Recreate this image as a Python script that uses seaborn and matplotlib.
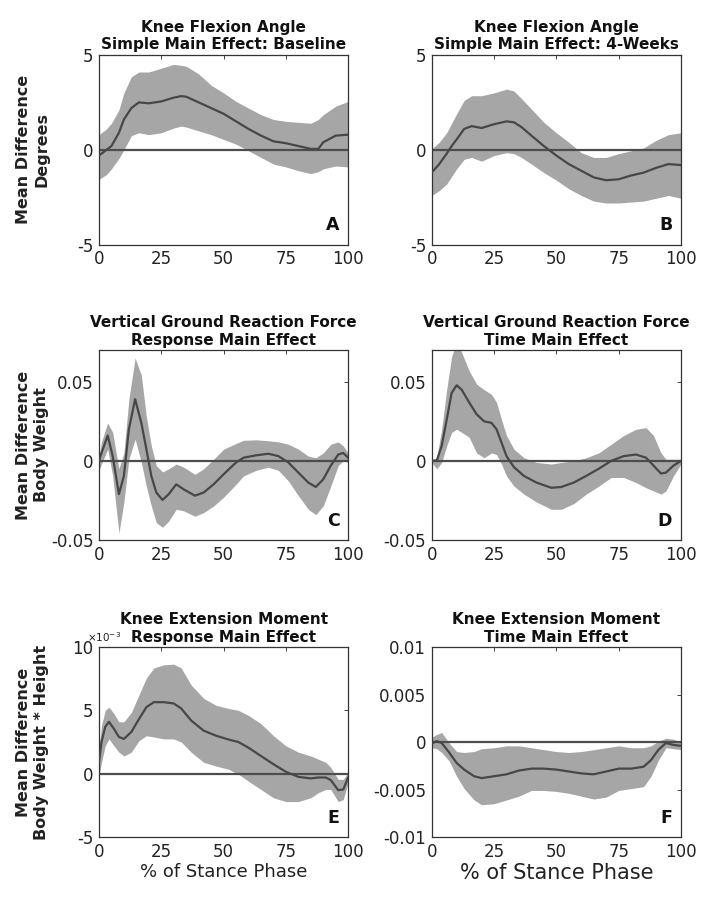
import numpy as np
import pandas as pd
import matplotlib
matplotlib.use("Agg")
import matplotlib.pyplot as plt
import seaborn as sns

# =============================
# DATA
# =============================
# A - knee flexion angle, baseline
a_x = [0, 3, 5, 8, 10, 13, 16, 20, 25, 30, 33, 35, 40, 45, 50, 55, 60, 65, 70, 75, 80, 85, 88, 90, 95, 100]
a_mean = [-0.3, 0.0, 0.2, 0.9, 1.6, 2.2, 2.5, 2.45, 2.55, 2.75, 2.83, 2.8, 2.5, 2.2, 1.9, 1.5, 1.1, 0.75, 0.45, 0.35, 0.2, 0.05, 0.05, 0.4, 0.75, 0.8]
a_up = [0.8, 1.1, 1.4, 2.1, 3.0, 3.85, 4.1, 4.1, 4.3, 4.5, 4.45, 4.4, 4.0, 3.4, 3.0, 2.55, 2.2, 1.85, 1.6, 1.5, 1.45, 1.4, 1.6, 1.85, 2.3, 2.55]
a_lo = [-1.55, -1.3, -1.0, -0.45, 0.0, 0.75, 0.9, 0.8, 0.9, 1.15, 1.25, 1.2, 1.0, 0.8, 0.55, 0.3, -0.05, -0.4, -0.75, -0.9, -1.1, -1.25, -1.15, -1.0, -0.85, -0.9]

# B - knee flexion angle, 4 weeks
b_x = [0, 3, 6, 8, 10, 13, 16, 20, 25, 30, 33, 36, 40, 45, 50, 55, 60, 65, 70, 75, 80, 85, 90, 95, 100]
b_mean = [-1.2, -0.75, -0.2, 0.2, 0.55, 1.1, 1.25, 1.15, 1.35, 1.5, 1.45, 1.2, 0.75, 0.2, -0.3, -0.75, -1.1, -1.45, -1.6, -1.55, -1.35, -1.2, -0.95, -0.75, -0.8]
b_up = [0.05, 0.4, 0.9, 1.4, 1.9, 2.6, 2.85, 2.85, 3.0, 3.2, 3.1, 2.7, 2.15, 1.45, 0.9, 0.4, -0.15, -0.4, -0.4, -0.2, -0.05, 0.1, 0.5, 0.8, 0.9]
b_lo = [-2.4, -2.15, -1.8, -1.4, -1.0, -0.5, -0.4, -0.6, -0.3, -0.15, -0.2, -0.4, -0.75, -1.2, -1.6, -2.05, -2.4, -2.7, -2.8, -2.8, -2.75, -2.7, -2.55, -2.4, -2.55]

# C - vertical GRF, response main effect
c_x = [0, 1, 3.5, 5.5, 8, 10, 12, 14.5, 17, 19, 21, 23, 25.5, 28, 31, 34, 38.5, 42, 46, 50, 55, 58, 63, 68, 72, 76, 80, 84, 87, 90, 93, 96, 98, 100]
c_mean = [0.0, 0.005, 0.016, 0.003, -0.021, -0.0095, 0.02, 0.039, 0.024, 0.0075, -0.0095, -0.02, -0.0247, -0.021, -0.0148, -0.018, -0.022, -0.02, -0.0148, -0.0085, -0.001, 0.002, 0.0035, 0.0045, 0.003, -0.001, -0.0074, -0.0137, -0.0165, -0.0116, -0.003, 0.004, 0.005, 0.002]
c_up = [0.002, 0.012, 0.024, 0.018, -0.005, 0.005, 0.039, 0.065, 0.054, 0.028, 0.0095, -0.003, -0.007, -0.005, -0.002, -0.004, -0.0085, -0.005, 0.001, 0.0074, 0.011, 0.013, 0.0133, 0.0127, 0.012, 0.0105, 0.0074, 0.003, 0.002, 0.005, 0.0105, 0.012, 0.0095, 0.005]
c_lo = [-0.006, -0.002, 0.0074, -0.0095, -0.0455, -0.026, 0.001, 0.0137, -0.001, -0.016, -0.0285, -0.039, -0.042, -0.038, -0.0306, -0.0316, -0.035, -0.0327, -0.0285, -0.023, -0.0148, -0.0095, -0.006, -0.004, -0.006, -0.0127, -0.022, -0.0306, -0.034, -0.0285, -0.016, -0.003, 0.0, -0.001]

# D - vertical GRF, time main effect
d_x = [0, 2, 4, 6, 8, 10, 12, 15, 18, 21, 24, 26, 28, 30, 33, 37, 42, 48, 52, 57, 62, 67, 72, 77, 82, 86, 89, 92, 94, 97, 100]
d_mean = [0.0, 0.0, 0.0095, 0.026, 0.043, 0.0478, 0.045, 0.037, 0.0295, 0.025, 0.024, 0.02, 0.0116, 0.003, -0.004, -0.0095, -0.0137, -0.017, -0.0165, -0.0137, -0.0095, -0.005, 0.0, 0.003, 0.004, 0.002, -0.003, -0.008, -0.0074, -0.003, 0.0]
d_up = [0.001, 0.002, 0.02, 0.045, 0.066, 0.075, 0.0686, 0.057, 0.0485, 0.045, 0.042, 0.037, 0.026, 0.016, 0.0074, 0.002, -0.001, -0.002, -0.001, 0.0, 0.002, 0.005, 0.0105, 0.016, 0.02, 0.021, 0.016, 0.005, 0.001, 0.001, 0.001]
d_lo = [-0.001, -0.005, -0.001, 0.0095, 0.018, 0.02, 0.018, 0.015, 0.005, 0.002, 0.005, 0.004, -0.002, -0.0095, -0.016, -0.021, -0.026, -0.0306, -0.0306, -0.027, -0.021, -0.016, -0.0105, -0.0105, -0.0137, -0.017, -0.019, -0.021, -0.019, -0.0095, -0.002]

# E - knee extension moment, response main effect (x 10^-3)
e_x = [0, 1, 2.5, 4, 6, 8, 10, 13, 16, 19, 22, 26, 30, 33, 37, 42, 47, 52, 56, 60, 65, 70, 75, 80, 85, 88, 91, 93, 96, 98, 100]
e_mean = [0.9, 2.5, 3.7, 4.1, 3.55, 2.9, 2.75, 3.3, 4.3, 5.25, 5.65, 5.65, 5.55, 5.15, 4.2, 3.4, 3.0, 2.7, 2.5, 2.05, 1.4, 0.75, 0.15, -0.25, -0.37, -0.3, -0.3, -0.5, -1.3, -1.25, -0.3]
e_up = [1.95, 3.8, 5.0, 5.25, 4.75, 4.1, 4.1, 4.85, 6.2, 7.55, 8.35, 8.6, 8.65, 8.35, 7.0, 5.95, 5.4, 5.15, 5.0, 4.6, 3.95, 3.0, 2.2, 1.7, 1.4, 1.15, 0.9, 0.5, -0.45, -0.45, 0.1]
e_lo = [-0.2, 0.9, 2.2, 2.75, 2.2, 1.7, 1.4, 1.7, 2.6, 3.0, 2.9, 2.75, 2.75, 2.5, 1.7, 0.9, 0.6, 0.35, -0.05, -0.6, -1.25, -1.9, -2.2, -2.2, -1.9, -1.5, -1.25, -1.25, -2.2, -2.05, -0.7]

# F - knee extension moment, time main effect
f_x = [0, 2, 4, 7, 10, 13, 17, 20, 25, 30, 35, 40, 45, 50, 55, 60, 65, 70, 75, 80, 85, 88, 91, 94, 97, 100]
f_mean = [-0.00015, 0.0001, -0.0001, -0.0011, -0.0022, -0.0029, -0.0036, -0.0038, -0.0036, -0.0034, -0.003, -0.0028, -0.0028, -0.0029, -0.0031, -0.0033, -0.0034, -0.0031, -0.0028, -0.0028, -0.0026, -0.0019, -0.0008, -0.0001, -0.0003, -0.0004]
f_up = [0.0005, 0.0008, 0.001, -0.0001, -0.001, -0.0011, -0.001, -0.0007, -0.0006, -0.0004, -0.0004, -0.0006, -0.0008, -0.001, -0.0011, -0.001, -0.0008, -0.0006, -0.0004, -0.0006, -0.0006, -0.0004, 0.0001, 0.0004, 0.0003, 0.0]
f_lo = [-0.0006, -0.0007, -0.0011, -0.002, -0.0036, -0.0049, -0.0061, -0.0066, -0.0065, -0.0061, -0.0057, -0.0051, -0.0051, -0.0052, -0.0054, -0.0057, -0.006, -0.0058, -0.0051, -0.0049, -0.0047, -0.0036, -0.0019, -0.0006, -0.0007, -0.0008]

# axis setup per panel
x_ticks = [0, 25, 50, 75, 100]
ab_yticks = [-5, 0, 5]
ab_ylabels = ["-5", "0", "5"]
cd_yticks = [-0.05, 0, 0.05]
cd_ylabels = ["-0.05", "0", "0.05"]
e_yticks = [-5, 0, 5, 10]
e_ylabels = ["-5", "0", "5", "10"]
f_yticks = [-0.01, -0.005, 0, 0.005, 0.01]
f_ylabels = ["-0.01", "-0.005", "0", "0.005", "0.01"]

titles = {
    "A": "Knee Flexion Angle\nSimple Main Effect: Baseline",
    "B": "Knee Flexion Angle\nSimple Main Effect: 4-Weeks",
    "C": "Vertical Ground Reaction Force\nResponse Main Effect",
    "D": "Vertical Ground Reaction Force\nTime Main Effect",
    "E": "Knee Extension Moment\nResponse Main Effect",
    "F": "Knee Extension Moment\nTime Main Effect",
}
ylabels = {
    "A": "Mean Difference\nDegrees",
    "C": "Mean Difference\nBody Weight",
    "E": "Mean Difference\nBody Weight * Height",
}

# =============================
# STYLE
# =============================
sns.set_style("white")
plt.rcParams["font.family"] = ["DejaVu Sans"]
plt.rcParams["axes.unicode_minus"] = False

FILL = "#a6a6a6"
LINE = "#474747"
ZERO = "#4d4d4d"

fig = plt.figure(figsize=(7.02, 9.0), dpi=100)

lefts = [0.141, 0.615]
width = 0.355
bottoms = [0.728, 0.40, 0.07]
height = 0.211

panels = [
    ("A", a_x, a_mean, a_up, a_lo, (-5, 5), ab_yticks, ab_ylabels),
    ("B", b_x, b_mean, b_up, b_lo, (-5, 5), ab_yticks, ab_ylabels),
    ("C", c_x, c_mean, c_up, c_lo, (-0.05, 0.07), cd_yticks, cd_ylabels),
    ("D", d_x, d_mean, d_up, d_lo, (-0.05, 0.07), cd_yticks, cd_ylabels),
    ("E", e_x, e_mean, e_up, e_lo, (-5, 10), e_yticks, e_ylabels),
    ("F", f_x, f_mean, f_up, f_lo, (-0.01, 0.01), f_yticks, f_ylabels),
]

for i, (key, xs, mean, up, lo, ylim, yt, ytl) in enumerate(panels):
    row, col = divmod(i, 2)
    ax = fig.add_axes([lefts[col], bottoms[row], width, height])
    df = pd.DataFrame({"x": xs, "mean": mean, "up": up, "lo": lo})

    ax.fill_between(df["x"], df["lo"], df["up"], color=FILL, linewidth=0, zorder=1)
    ax.axhline(0, color=ZERO, linewidth=1.6, zorder=2)
    sns.lineplot(data=df, x="x", y="mean", ax=ax, color=LINE, linewidth=1.6, zorder=3)

    ax.set_xlim(0, 100)
    ax.set_ylim(*ylim)
    ax.set_xticks(x_ticks)
    ax.set_xticklabels([str(t) for t in x_ticks])
    ax.set_yticks(yt)
    ax.set_yticklabels(ytl)
    ax.tick_params(direction="in", top=True, right=True, length=3, width=0.6,
                   labelsize=12, colors="#222222", pad=4)
    for s in ax.spines.values():
        s.set_color("#333333")
        s.set_linewidth(0.9)

    ax.set_title(titles[key], fontsize=11, fontweight="bold", color="#111111", pad=4, linespacing=1.2)
    ax.set_xlabel("")
    ax.set_ylabel(ylabels.get(key, ""), fontsize=11.5, fontweight="bold", color="#222222", linespacing=1.25)

    ax.text(0.965, 0.055, key, transform=ax.transAxes, ha="right", va="bottom",
            fontsize=12.5, fontweight="bold", color="#111111")

    if key == "E":
        ax.set_xlabel("% of Stance Phase", fontsize=13, color="#222222", labelpad=2)
        ax.text(-0.05, 1.015, r"$\times$10$^{-3}$", transform=ax.transAxes, ha="left", va="bottom",
                fontsize=7.5, color="#222222")
    if key == "F":
        ax.set_xlabel("% of Stance Phase", fontsize=15, color="#222222", labelpad=2)

# align y-labels for the left column
for ax in fig.axes[0::2]:
    ax.yaxis.set_label_coords(-0.2, 0.5)

fig.savefig("out.png", dpi=100)
